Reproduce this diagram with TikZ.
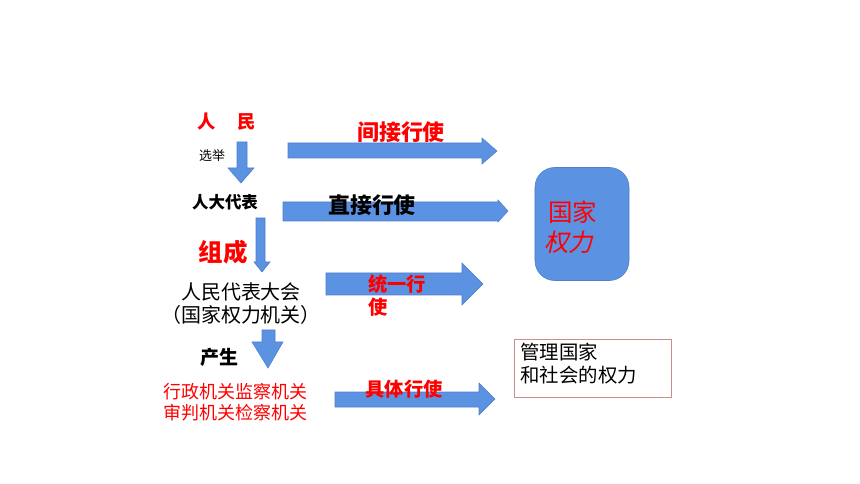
\documentclass[tikz,border=0pt]{standalone}
\usepackage{fontspec}
\setmainfont{Noto Sans CJK SC}
\usepackage{tikz}
\usetikzlibrary{positioning}

\definecolor{arrowblue}{RGB}{92,146,226}
\definecolor{edgeblue}{RGB}{78,128,205}
\definecolor{boxred}{RGB}{205,140,140}

\begin{document}
\begin{tikzpicture}[
  x=0.025cm, y=-0.025cm,
  every node/.style={inner sep=0pt, align=center},
  blockarrow/.style={fill=arrowblue, draw=edgeblue, line width=0.4pt},
  redtext/.style={text=red},
  fs/.style 2 args={font=\fontsize{#1}{#2}\selectfont},
  fsb/.style 2 args={font=\fontsize{#1}{#2}\selectfont\bfseries}
]
\useasboundingbox (0,0) rectangle (860,484);

% left column
\node (people) [redtext, fsb={13}{16}] at (227,122) {人\hspace{1.2em}民};
\node (elect) [fs={9.2}{11}] at (212,156) {选举};
\node (deputies) [fsb={11.7}{14}] at (225,202) {人大代表};
\node (form) [redtext, fsb={17.4}{20}] at (223,252) {组成};
\node (npc) [fs={14.2}{16.3}] at (241,304) {人民代表大会\\（国家权力机关）};
\node (produce) [fsb={13.5}{16}] at (219,357) {产生};
\node (organs) [redtext, fs={12.8}{14.9}] at (235,402) {行政机关监察机关\\审判机关检察机关};

% down arrows
\draw[blockarrow] (237,142) -- (247,142) -- (247,168) -- (254,168) -- (241,183)
  -- (228,168) -- (237,168) -- cycle;
\draw[blockarrow] (256,218) -- (265,218) -- (265,262) -- (270,262) -- (262,272)
  -- (254,262) -- (256,262) -- cycle;
\draw[blockarrow] (262,330) -- (275,330) -- (275,342) -- (283,342) -- (268,368)
  -- (252,342) -- (262,342) -- cycle;

% right arrows
\draw[blockarrow] (288,143) -- (482,143) -- (482,138) -- (497,151) -- (482,164)
  -- (482,158) -- (288,158) -- cycle;
\draw[blockarrow] (283,202) -- (498,202) -- (498,200) -- (508,211) -- (498,222)
  -- (498,221) -- (283,221) -- cycle;
\draw[blockarrow] (326,273) -- (462,273) -- (462,263) -- (483,284) -- (462,305)
  -- (462,295) -- (326,295) -- cycle;
\draw[blockarrow] (335,392) -- (479,392) -- (479,383) -- (495,399) -- (479,415)
  -- (479,407) -- (335,407) -- cycle;

% arrow labels
\node (indirect) [redtext, fsb={15.6}{18}] at (401,132) {间接行使};
\node (direct) [fsb={15.6}{18}] at (372,205) {直接行使};
\node (unified) [redtext, fsb={13.7}{16.5}, anchor=north west, align=left]
  at (368,274) {统一行\\使};
\node (concrete) [redtext, fsb={13.7}{16}] at (404,389) {具体行使};

% state power
\node (power) [fill=arrowblue, draw=edgeblue, rounded corners=14, minimum width=2.35cm,
  minimum height=2.825cm] at (582,224) {};
\node (state) [redtext, fs={17.4}{21}, anchor=west] at (548,212) {国家};
\coordinate (rightpos) at (546,242);
\begin{scope}[shift={(rightpos)}, xslant=0.22]
  \node (right) [redtext, fs={17.4}{21}, anchor=west, transform shape] at (0,0) {权力};
\end{scope}

\node (manage) [draw=boxred, minimum width=3.925cm, minimum height=1.45cm] at (593,368) {};
\node (managetext) [fs={13.8}{16.5}, anchor=north west, align=left]
  at ([shift={(6,4)}]manage.north west) {管理国家\\和社会的权力};
\end{tikzpicture}
\end{document}
